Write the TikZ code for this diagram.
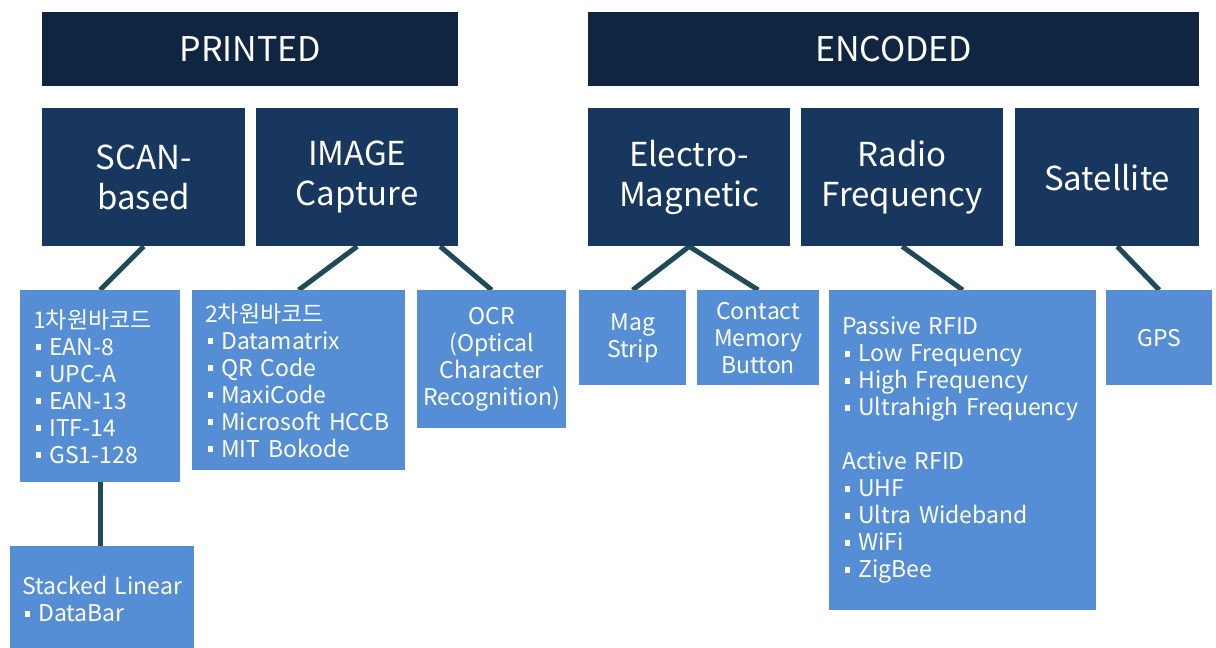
\documentclass[tikz,border=0pt]{standalone}
\usepackage{fontspec}
\setmainfont{Noto Sans CJK KR}
\usetikzlibrary{calc,backgrounds}
\definecolor{navytop}{HTML}{10253F}
\definecolor{navymid}{HTML}{17375E}
\definecolor{boxblue}{HTML}{558ED5}
\definecolor{linkteal}{HTML}{1E4B57}
\newcommand{\itm}{\hspace{0.1em}\rule[0.22em]{0.25em}{0.25em}\hspace{0.35em}}
\hyphenpenalty=10000

\begin{document}
\begin{tikzpicture}[x=1pt,y=-1pt,
  head/.style={fill=navytop, text=white, anchor=north west, inner sep=0pt, font=\fontsize{34}{40}\selectfont},
  cat/.style={fill=navymid, text=white, anchor=north west, inner sep=0pt, align=center, minimum height=138pt, font=\fontsize{33}{40}\selectfont},
  leaf/.style={fill=boxblue, text=white, anchor=north west, inner sep=0pt, align=center, font=\fontsize{23}{27}\selectfont},
  list/.style={leaf, align=left, inner xsep=13pt},
  link/.style={draw=linkteal, line width=5pt}
]
\useasboundingbox (0,0) rectangle (1216,648);
% top bars
\node[head, minimum width=416pt, minimum height=74pt] (printed) at (42,12) {PRINTED};
\node[head, minimum width=611pt, minimum height=74pt] (encoded) at (588,12) {ENCODED};
% categories
\node[cat, minimum width=203pt] (scan) at (42,108) {SCAN-\\based};
\node[cat, minimum width=202pt] (img) at (256,108) {IMAGE\\Capture};
\node[cat, minimum width=202pt] (em) at (588,108) {Electro-\\Magnetic};
\node[cat, minimum width=202pt] (rf) at (801,108) {Radio\\Frequency};
\node[cat, minimum width=184pt] (sat) at (1015,108) {Satellite};
% leaves
\node[list, text width=134pt, minimum height=192pt] (bar1d) at (20,290)
  {1차원바코드\\\itm EAN-8\\\itm UPC-A\\\itm EAN-13\\\itm ITF-14\\\itm GS1-128};
\node[list, text width=187pt, minimum height=180pt] (bar2d) at (192,290)
  {2차원바코드\\\itm Datamatrix\\\itm QR Code\\\itm MaxiCode\\\itm Microsoft HCCB\\\itm MIT Bokode};
\node[leaf, minimum width=149pt, minimum height=138pt] (ocr) at (417,290)
  {OCR\\(Optical\\Character\\Recognition)};
\node[leaf, minimum width=107pt, minimum height=95pt] (mag) at (579,290) {Mag\\Strip};
\node[leaf, minimum width=122pt, minimum height=95pt] (cmb) at (697,290) {Contact\\Memory\\Button};
\node[list, text width=241pt, minimum height=320pt] (rfid) at (829,290)
  {Passive RFID\\\itm Low Frequency\\\itm High Frequency\\\itm Ultrahigh Frequency\\[27pt]
   Active RFID\\\itm UHF\\\itm Ultra Wideband\\\itm WiFi\\\itm ZigBee};
\node[leaf, minimum width=106pt, minimum height=95pt] (gps) at (1106,290) {GPS};
\node[list, inner xsep=12pt, text width=160pt, minimum height=106pt] (stacked) at (10,546)
  {\mbox{Stacked Linear}\\\itm DataBar};
% connectors
\begin{scope}[on background layer]
\fill[white] (0,0) rectangle (1216,648);
\draw[link] (scan.south) -- (bar1d.north);
\draw[link] (img.south) -- (bar2d.north);
\draw[link] ($(img.south)!0.82!(img.south east)$) -- (ocr.north);
\draw[link] (mag.north) -- (em.south) -- (cmb.north);
\draw[link] (rf.south) -- (rfid.north);
\draw[link] ($(sat.south)+(10,0)$) -- (gps.north);
\draw[link] (bar1d.south) -- (bar1d.south |- stacked.north);
\end{scope}
\end{tikzpicture}
\end{document}
